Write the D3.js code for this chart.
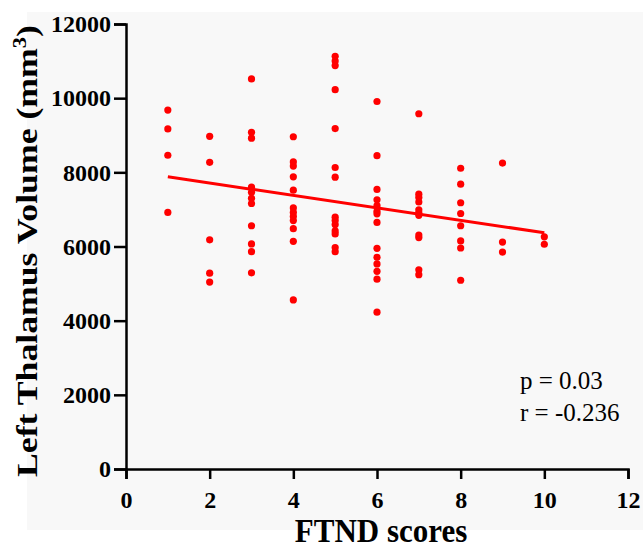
<!DOCTYPE html>
<html><head><meta charset="utf-8">
<script src="https://cdn.jsdelivr.net/npm/d3@7"></script>
<style>body{margin:0;background:#fff}svg{display:block}</style>
</head><body>
<script>
// FTND score for each column of points
const ftndScores = [1,2,3,4,5,6,7,8,9,10];
// Left thalamus volume values (mm^3) per FTND score
const volumes1 = [9680, 9170, 8460, 6920];
const volumes2 = [8970, 8270, 6180, 5280, 5040];
const volumes3 = [10520, 9080, 8920, 7600, 7460, 7300, 7160, 6560, 6070, 5860, 5290];
const volumes4 = [8960, 8280, 8170, 7880, 7520, 7040, 6920, 6810, 6700, 6480, 6140, 4560];
const volumes5 = [11130, 11000, 10880, 10230, 9180, 8130, 7870, 6790, 6700, 6590, 6420, 6340, 5970, 5860];
const volumes6 = [9910, 8450, 7540, 7260, 7100, 6950, 6880, 6650, 5950, 5710, 5530, 5330, 5120, 4230];
const volumes7 = [9580, 7410, 7320, 7200, 6990, 6910, 6840, 6310, 6240, 5370, 5240];
const volumes8 = [8110, 7680, 7180, 6890, 6560, 6150, 5960, 5090];
const volumes9 = [8250, 6120, 5850];
const volumes10 = [6260, 6060];
const volumesByScore = [volumes1, volumes2, volumes3, volumes4, volumes5, volumes6, volumes7, volumes8, volumes9, volumes10];
// Fitted regression line endpoints [FTND, volume]
const fitLine = [[1, 7880], [10, 6370]];
const xTicks = [0,2,4,6,8,10,12];
const yTicks = [0,2000,4000,6000,8000,10000,12000];
const statLines = ["p = 0.03", "r = -0.236"];

const points = [];
ftndScores.forEach((s,i)=> volumesByScore[i].forEach(v=>points.push({x:s,y:v})));

const W=643,H=548;
const svg=d3.select("body").append("svg").attr("width",W).attr("height",H);
svg.append("rect").attr("x",27).attr("y",12).attr("width",W-27).attr("height",518).attr("fill","#f8f8f8");

const x=d3.scaleLinear().domain([0,12]).range([126,628]);
const y=d3.scaleLinear().domain([0,12000]).range([469,24]);
const font='"Liberation Serif","Times New Roman",serif';

const xa=svg.append("g").attr("transform","translate(0,469)")
  .call(d3.axisBottom(x).tickValues(xTicks).tickSize(10).tickPadding(13).tickFormat(d3.format("d")));
const ya=svg.append("g").attr("transform","translate(126,0)")
  .call(d3.axisLeft(y).tickValues(yTicks).tickSize(12).tickPadding(3).tickFormat(d3.format("d")));
[xa,ya].forEach(a=>{
  a.select(".domain").attr("stroke","#000").attr("stroke-width",2.5);
  a.selectAll(".tick line").attr("stroke","#000").attr("stroke-width",2.5);
  a.selectAll(".tick text").attr("fill","#000").style("font-family",font).style("font-weight","bold").style("font-size","24px");
});
xa.selectAll(".tick text").attr("dy","0.68em");

svg.append("line")
  .attr("x1",x(fitLine[0][0])).attr("y1",y(fitLine[0][1]))
  .attr("x2",x(fitLine[1][0])).attr("y2",y(fitLine[1][1]))
  .attr("stroke","#f00").attr("stroke-width",3);

svg.append("g").selectAll("circle").data(points).join("circle")
  .attr("cx",d=>x(d.x)).attr("cy",d=>y(d.y)).attr("r",3.6).attr("fill","#f00");

svg.append("text").attr("transform","translate(381,542) scale(1,1.08)").attr("text-anchor","middle")
  .style("font-family",font).style("font-weight","bold").style("font-size","31px").text("FTND scores");

const yl=svg.append("text").attr("transform","translate(37,251) rotate(-90) scale(1.19,1)").attr("text-anchor","middle")
  .style("font-family",font).style("font-weight","bold").style("font-size","30px");
yl.append("tspan").text("Left Thalamus Volume (mm");
yl.append("tspan").attr("dy","-11").style("font-size","19px").text("3");
yl.append("tspan").attr("dy","11").text(")");

statLines.forEach((t,i)=>svg.append("text").attr("x",520).attr("y",389+i*32)
  .style("font-family",font).style("font-size","25px").attr("fill","#000").text(t));
</script>
</body></html>
